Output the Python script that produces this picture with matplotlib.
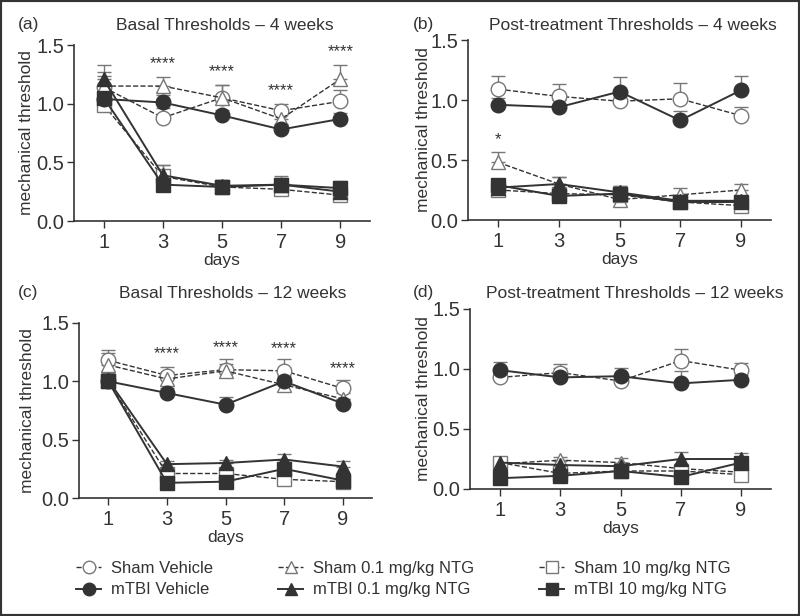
import numpy as np
import matplotlib
matplotlib.use("Agg")
import matplotlib.pyplot as plt
from matplotlib.lines import Line2D
from matplotlib.patches import Rectangle

plt.rcParams['font.family'] = ['Liberation Sans', 'DejaVu Sans']

# ---------------- data ----------------
days = [1, 3, 5, 7, 9]

series_names = ["Sham Vehicle", "mTBI Vehicle",
                "Sham 0.1 mg/kg NTG", "mTBI 0.1 mg/kg NTG",
                "Sham 10 mg/kg NTG", "mTBI 10 mg/kg NTG"]

# rows follow series_names
a_means = [[1.14, 0.88, 1.05, 0.94, 1.02],
           [1.04, 1.01, 0.90, 0.78, 0.87],
           [1.15, 1.15, 1.05, 0.87, 1.21],
           [1.21, 0.39, 0.30, 0.31, 0.25],
           [0.99, 0.38, 0.29, 0.27, 0.22],
           [1.05, 0.31, 0.29, 0.31, 0.28]]
a_errs = [[0.10, 0.08, 0.11, 0.06, 0.10],
          [0.06, 0.06, 0.05, 0.05, 0.05],
          [0.12, 0.08, 0.11, 0.08, 0.12],
          [0.12, 0.09, 0.05, 0.07, 0.07],
          [0.08, 0.10, 0.05, 0.06, 0.05],
          [0.07, 0.08, 0.05, 0.06, 0.06]]
a_stars = ["", "****", "****", "****", "****"]
a_star_y = [0, 1.34, 1.27, 1.11, 1.44]

b_means = [[1.09, 1.03, 0.99, 1.01, 0.87],
           [0.96, 0.94, 1.07, 0.83, 1.08],
           [0.48, 0.30, 0.17, 0.21, 0.25],
           [0.27, 0.30, 0.23, 0.16, 0.16],
           [0.25, 0.22, 0.21, 0.15, 0.12],
           [0.29, 0.20, 0.22, 0.15, 0.15]]
b_errs = [[0.11, 0.10, 0.06, 0.13, 0.07],
          [0.06, 0.06, 0.12, 0.08, 0.12],
          [0.09, 0.06, 0.05, 0.06, 0.05],
          [0.04, 0.06, 0.05, 0.04, 0.04],
          [0.04, 0.04, 0.05, 0.04, 0.03],
          [0.04, 0.04, 0.06, 0.04, 0.04]]
b_stars = ["*", "", "", "", ""]
b_star_y = [0.67, 0, 0, 0, 0]

c_means = [[1.18, 1.05, 1.10, 1.09, 0.94],
           [1.00, 0.90, 0.80, 1.00, 0.81],
           [1.14, 1.02, 1.09, 0.97, 0.85],
           [1.01, 0.29, 0.30, 0.33, 0.27],
           [1.00, 0.21, 0.21, 0.16, 0.14],
           [1.00, 0.13, 0.14, 0.25, 0.15]]
c_errs = [[0.09, 0.07, 0.09, 0.10, 0.07],
          [0.05, 0.04, 0.07, 0.05, 0.04],
          [0.10, 0.06, 0.06, 0.06, 0.05],
          [0.06, 0.03, 0.03, 0.05, 0.05],
          [0.05, 0.03, 0.03, 0.03, 0.03],
          [0.04, 0.03, 0.03, 0.05, 0.03]]
c_stars = ["", "****", "****", "****", "****"]
c_star_y = [0, 1.24, 1.29, 1.28, 1.11]

d_means = [[0.93, 0.97, 0.90, 1.07, 0.99],
           [0.99, 0.93, 0.94, 0.88, 0.91],
           [0.21, 0.24, 0.22, 0.17, 0.14],
           [0.22, 0.20, 0.19, 0.25, 0.25],
           [0.22, 0.13, 0.15, 0.15, 0.12],
           [0.09, 0.11, 0.15, 0.10, 0.22]]
d_errs = [[0.04, 0.07, 0.05, 0.10, 0.06],
          [0.07, 0.08, 0.07, 0.10, 0.04],
          [0.03, 0.03, 0.04, 0.04, 0.03],
          [0.03, 0.03, 0.03, 0.06, 0.05],
          [0.03, 0.03, 0.03, 0.03, 0.03],
          [0.03, 0.03, 0.03, 0.03, 0.04]]
d_stars = ["", "", "", "", ""]
d_star_y = [0, 0, 0, 0, 0]

titles = ["Basal Thresholds \u2013 4 weeks", "Post-treatment Thresholds \u2013 4 weeks",
          "Basal Thresholds \u2013 12 weeks", "Post-treatment Thresholds \u2013 12 weeks"]
panel_tags = ["(a)", "(b)", "(c)", "(d)"]

# ---------------- styles ----------------
DARK = "#333333"
GREY = "#777777"
TXT = "#333333"

styles = [
    dict(marker='o', mfc='white', mec=GREY, ls='--', color=DARK, lw=1.0),
    dict(marker='o', mfc=DARK, mec=DARK, ls='-', color=DARK, lw=1.4),
    dict(marker='^', mfc='white', mec=GREY, ls='--', color=DARK, lw=1.0),
    dict(marker='^', mfc=DARK, mec=DARK, ls='-', color=DARK, lw=1.4),
    dict(marker='s', mfc='white', mec=GREY, ls='--', color=DARK, lw=1.0),
    dict(marker='s', mfc=DARK, mec=DARK, ls='-', color=DARK, lw=1.4),
]
draw_order = [0, 2, 4, 1, 3, 5]

fig = plt.figure(figsize=(8, 6.16), dpi=100)

# axes boxes in pixels: left, right, top, bottom
boxes_px = [(74, 370, 45, 221), (468, 771, 40, 220),
            (79, 372, 323, 498), (470, 771, 309, 489)]
title_px = [(225, 25), (633, 25), (233, 293), (635, 293)]
tag_px = [(18, 25), (413, 25), (18, 293), (413, 293)]
ylab_px = [27, 424, 28, 424]

W, H = 800, 616
panels = [(a_means, a_errs, a_stars, a_star_y),
          (b_means, b_errs, b_stars, b_star_y),
          (c_means, c_errs, c_stars, c_star_y),
          (d_means, d_errs, d_stars, d_star_y)]

for k, (means, errs, stars, star_y) in enumerate(panels):
    l, r, t, b = boxes_px[k]
    ax = fig.add_axes([l / W, 1 - b / H, (r - l) / W, (b - t) / H])
    for i in draw_order:
        st = styles[i]
        m = np.array(means[i])
        e = np.array(errs[i])
        ax.errorbar(days, m, yerr=[np.zeros_like(e), e], fmt='none',
                    ecolor=GREY, elinewidth=1.0, capsize=5, capthick=1.0, zorder=2)
        ax.plot(days, m, linestyle=st['ls'], color=st['color'], lw=st['lw'],
                marker=st['marker'], ms=10.5, mfc=st['mfc'], mec=st['mec'],
                mew=1.0, zorder=3)
    for x, s, y in zip(days, stars, star_y):
        if s:
            ax.text(x, y, s, ha='center', va='center', fontsize=12, color=TXT)
    ax.set_xlim(0, 10)
    ax.set_ylim(0, 1.5)
    ax.set_xticks(days)
    ax.set_yticks([0.0, 0.5, 1.0, 1.5])
    ax.set_yticklabels(["0.0", "0.5", "1.0", "1.5"])
    for sp in ['top', 'right']:
        ax.spines[sp].set_visible(False)
    for sp in ['left', 'bottom']:
        ax.spines[sp].set_color(DARK)
        ax.spines[sp].set_linewidth(1.2)
    ax.tick_params(colors=DARK, labelcolor=TXT, labelsize=14.5, length=5, width=1.0)
    ax.tick_params(axis='y', pad=2)
    ax.set_ylabel("mechanical threshold", fontsize=12.5, color=TXT)
    ax.yaxis.label.set_verticalalignment('center')
    ax.yaxis.set_label_coords((ylab_px[k] - l) / (r - l), 0.5)
    ax.set_xlabel("days", fontsize=12.5, color=TXT, labelpad=1)
    tx, ty = title_px[k]
    fig.text(tx / W, 1 - ty / H, titles[k], ha='center', va='center',
             fontsize=12.5, color=TXT)
    gx, gy = tag_px[k]
    fig.text(gx / W, 1 - gy / H, panel_tags[k], ha='left', va='center',
             fontsize=12.5, color=TXT)

# legend
handles = []
for i in range(6):
    st = styles[i]
    handles.append(Line2D([], [], linestyle=st['ls'], color=st['color'], lw=st['lw'],
                          marker=st['marker'], ms=9, mfc=st['mfc'], mec=st['mec'], mew=1.0))
fig.legend(handles, series_names, ncol=3, loc='upper left',
           bbox_to_anchor=(76 / W, 1 - 561 / H), frameon=False, fontsize=12,
           borderpad=0, borderaxespad=0,
           handlelength=1.5, columnspacing=3.9, labelspacing=0.38, handletextpad=0.6,
           labelcolor=TXT)

# outer frame
fig.add_artist(Rectangle((0, 0), 1, 1, transform=fig.transFigure, fill=False,
                         edgecolor=DARK, linewidth=3))

fig.savefig("out.png", dpi=100)
